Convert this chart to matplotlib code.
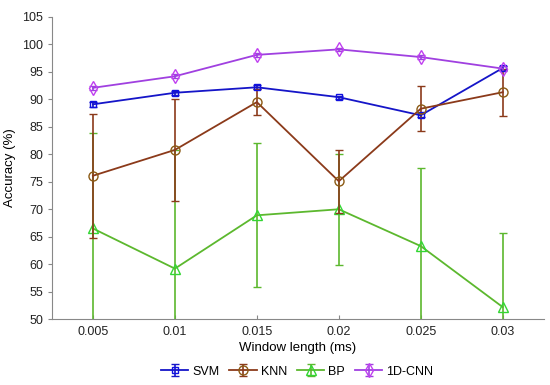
import matplotlib
matplotlib.use("Agg")
import matplotlib.pyplot as plt

plt.rcParams['font.family'] = ['Liberation Sans', 'DejaVu Sans']

window = [0.005, 0.01, 0.015, 0.02, 0.025, 0.03]
svm = [89.1, 91.2, 92.2, 90.4, 87.1, 95.7]
svm_err = [0.4, 0.4, 0.4, 0.3, 0.4, 0.4]
knn = [76.1, 80.8, 89.5, 75.1, 88.3, 91.3]
knn_err = [11.3, 9.3, 2.3, 5.7, 4.1, 4.3]
bp = [66.5, 59.2, 68.9, 70.0, 63.3, 52.2]
bp_err = [17.3, 21.5, 13.1, 10.1, 14.3, 13.4]
cnn = [92.1, 94.2, 98.1, 99.1, 97.7, 95.6]
cnn_err = [0.4, 0.4, 0.4, 0.3, 0.4, 0.4]
yticks = list(range(50, 106, 5))

fig = plt.figure(figsize=(5.5, 3.85), dpi=100)
ax = fig.add_axes([0.0945, 0.171, 0.894, 0.785])

ax.errorbar(window, svm, yerr=svm_err, color='#1515C8', marker='s', markersize=5,
            markerfacecolor='none', markeredgecolor='#1010E0', capsize=3, lw=1.3,
            elinewidth=1.2, label='SVM', zorder=3)
ax.errorbar(window, knn, yerr=knn_err, color='#8B3A1A', marker='o', markersize=6.5,
            markerfacecolor='none', markeredgecolor='#8B5A14', capsize=3, lw=1.3,
            elinewidth=1.2, ecolor='#8B3A1A', label='KNN', zorder=3)
ax.errorbar(window, bp, yerr=bp_err, color='#5CB82E', marker='^', markersize=6.5,
            markerfacecolor='none', markeredgecolor='#33D633', capsize=3, lw=1.3,
            elinewidth=1.2, ecolor='#5CB82E', label='BP', zorder=2)
ax.errorbar(window, cnn, yerr=cnn_err, color='#A040E0', marker='d', markersize=7,
            markerfacecolor='none', markeredgecolor='#C040F0', capsize=3, lw=1.3,
            elinewidth=1.2, label='1D-CNN', zorder=3)

ax.set_xlim(0.0025, 0.0325)
ax.set_ylim(50, 105)
ax.set_xticks(window)
ax.set_xticklabels(['0.005', '0.01', '0.015', '0.02', '0.025', '0.03'])
ax.set_yticks(yticks)
ax.tick_params(axis='both', labelsize=9, colors='#222222')
ax.tick_params(axis='y', direction='out', length=3, color='#888888')
ax.tick_params(axis='x', direction='in', length=3, color='#888888', pad=5)
for s in ['top', 'right']:
    ax.spines[s].set_visible(False)
for s in ['left', 'bottom']:
    ax.spines[s].set_color('#888888')
ax.set_xlabel('Window length (ms)', fontsize=9.5, labelpad=3)
ax.set_ylabel('Accuracy (%)', fontsize=9.5, labelpad=4)

fig.legend(loc='lower center', ncol=4, bbox_to_anchor=(0.54, -0.01), frameon=False,
           fontsize=9, handlelength=2.2, columnspacing=0.8, handletextpad=0.3)

fig.savefig('out.png', dpi=100)
